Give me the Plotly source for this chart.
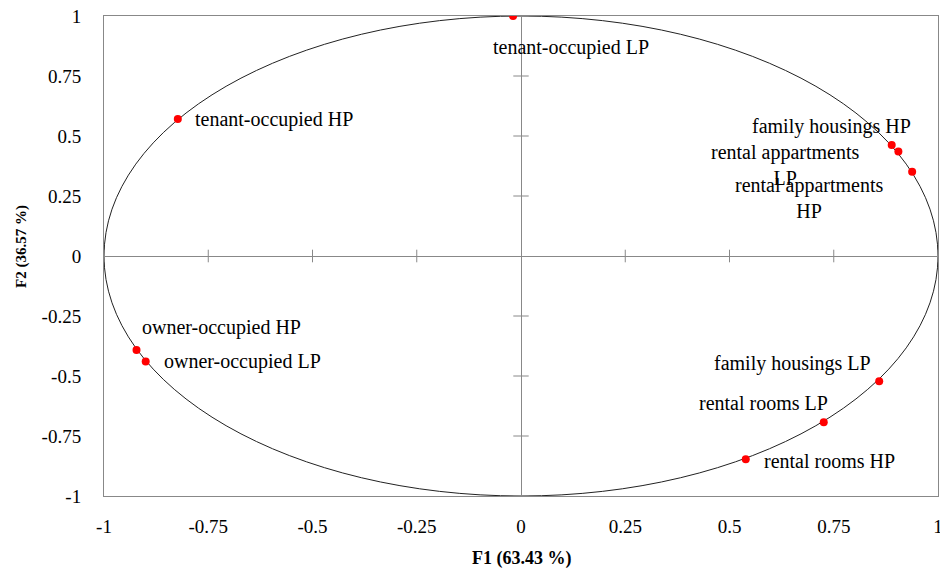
import plotly.graph_objects as go

# ---- data ----
labels = ["tenant-occupied LP", "tenant-occupied HP", "family housings HP",
          "rental appartments<br>LP", "rental appartments<br>HP",
          "owner-occupied HP", "owner-occupied LP", "family housings LP",
          "rental rooms LP", "rental rooms HP"]
f1 = [-0.019, -0.823, 0.889, 0.905, 0.938, -0.922, -0.900, 0.859, 0.726, 0.539]
f2 = [1.000, 0.571, 0.462, 0.435, 0.351, -0.392, -0.440, -0.522, -0.693, -0.847]
tick_vals = [-1, -0.75, -0.5, -0.25, 0, 0.25, 0.5, 0.75, 1]
tick_text = ["-1", "-0.75", "-0.5", "-0.25", "0", "0.25", "0.5", "0.75", "1"]
x_title = "F1 (63.43 %)"
y_title = "F2 (36.57 %)"

# ---- label placement (pixel offsets: xanchor, xshift, yshift) ----
label_style = {
    "tenant-occupied LP": ("center", 58, -31),
    "tenant-occupied HP": ("left", 15, -1),
    "family housings HP": ("right", 21, 19),
    "rental appartments<br>LP": ("center", -113, -13),
    "rental appartments<br>HP": ("center", -103, -26),
    "owner-occupied HP": ("left", 3, 23),
    "owner-occupied LP": ("left", 16, 0),
    "family housings LP": ("right", -6, 18),
    "rental rooms LP": ("right", 6, 19),
    "rental rooms HP": ("left", 16, -2),
}

FONT = "Liberation Serif, Times New Roman, serif"
AXC = "#888888"

fig = go.Figure()

# correlation circle
fig.add_shape(type="circle", xref="x", yref="y", x0=-1, y0=-1, x1=1, y1=1,
              line=dict(color="#222222", width=1), layer="below")

# tick marks crossing the zero axes
tv_inner = [v for v in tick_vals if v != 0]
fig.add_trace(go.Scatter(x=tv_inner, y=[0] * len(tv_inner), mode="markers",
                         marker=dict(symbol="line-ns-open", size=9, color=AXC,
                                     line=dict(color=AXC, width=1)),
                         hoverinfo="skip", showlegend=False))
fig.add_trace(go.Scatter(x=[0] * len(tv_inner), y=tv_inner, mode="markers",
                         marker=dict(symbol="line-ew-open", size=11, color=AXC,
                                     line=dict(color=AXC, width=1)),
                         hoverinfo="skip", showlegend=False))

# points
fig.add_trace(go.Scatter(x=f1, y=f2, mode="markers",
                         marker=dict(color="#FF0000", size=8),
                         text=labels, showlegend=False))

for lab, x, y in zip(labels, f1, f2):
    xa, xs, ys = label_style[lab]
    fig.add_annotation(x=x, y=y, xref="x", yref="y", text=lab, showarrow=False,
                       xanchor=xa, yanchor="middle", xshift=xs, yshift=ys,
                       align="center",
                       font=dict(family=FONT, size=20, color="black"))

axis_common = dict(range=[-1, 1], tickvals=tick_vals, ticktext=tick_text,
                   showgrid=False, zeroline=True, zerolinecolor=AXC,
                   zerolinewidth=1, showline=True, mirror=True,
                   linecolor=AXC, linewidth=1, ticks="",
                   ticklabeloverflow="allow", automargin=False,
                   tickfont=dict(family=FONT, size=19, color="black"))

fig.update_layout(
    width=940, height=569,
    margin=dict(l=104, r=2, t=16, b=73),
    paper_bgcolor="white", plot_bgcolor="white",
    xaxis=dict(**axis_common, ticklabelstandoff=13),
    yaxis=dict(**axis_common, ticklabelstandoff=18),
    showlegend=False,
)

fig.add_annotation(text="<b>" + x_title + "</b>", xref="paper", yref="paper",
                   x=0.5, y=0, yshift=-62, xanchor="center", yanchor="middle",
                   showarrow=False, font=dict(family=FONT, size=18, color="black"))
fig.add_annotation(text="<b>" + y_title + "</b>", xref="paper", yref="paper",
                   x=0, xshift=-83, y=0.5, yshift=9, textangle=-90,
                   xanchor="center", yanchor="middle",
                   showarrow=False, font=dict(family=FONT, size=15, color="black"))

fig.write_html("out.html")
